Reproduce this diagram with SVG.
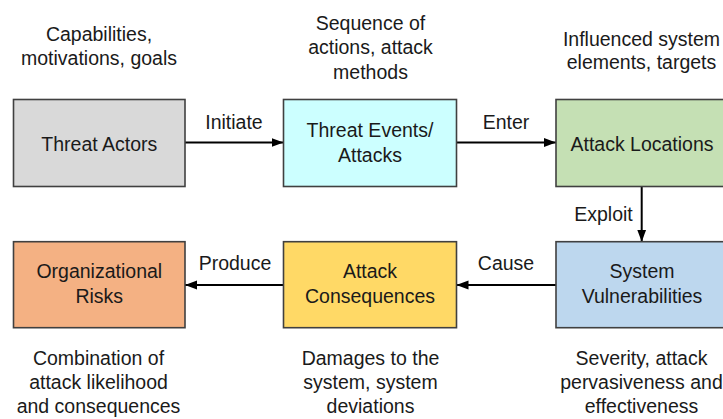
<svg xmlns="http://www.w3.org/2000/svg" width="723" height="419" viewBox="0 0 723 419">
<defs>
<style>
text{font-family:"Liberation Sans",Arial,sans-serif;font-size:19.5px;fill:#1a1a1a;text-anchor:middle}
.box{stroke:#404040;stroke-width:1.6}
.conn{stroke:#000;stroke-width:2;fill:none}
</style>
<marker id="ah" markerWidth="12" markerHeight="10" refX="12" refY="5" orient="auto" markerUnits="userSpaceOnUse">
<path d="M0,0.5 L12,5 L0,9.5 Z" fill="#000"/>
</marker>
</defs>
<rect width="723" height="419" fill="#fff"/>

<g id="connectors">
<line class="conn" x1="185" y1="142.5" x2="283.5" y2="142.5" marker-end="url(#ah)"/>
<line class="conn" x1="456.5" y1="142.5" x2="556" y2="142.5" marker-end="url(#ah)"/>
<line class="conn" x1="641.7" y1="187" x2="641.7" y2="241.7" marker-end="url(#ah)"/>
<line class="conn" x1="556" y1="285" x2="456.5" y2="285" marker-end="url(#ah)"/>
<line class="conn" x1="283.5" y1="285" x2="185" y2="285" marker-end="url(#ah)"/>
<text x="234" y="128.5">Initiate</text>
<text x="506" y="128.5">Enter</text>
<text x="603.5" y="220.5">Exploit</text>
<text x="506" y="270">Cause</text>
<text x="235" y="270">Produce</text>
</g>

<g id="threat-actors">
<rect class="box" x="13.5" y="99.5" width="171.5" height="87" fill="#d9d9d9"/>
<text x="99.3" y="150.5">Threat Actors</text>
<text x="99" y="40.5">Capabilities,</text>
<text x="99" y="65">motivations, goals</text>
</g>

<g id="threat-events">
<rect class="box" x="283.5" y="99.5" width="173" height="87" fill="#ccffff"/>
<text x="370" y="136.5">Threat Events/</text>
<text x="370" y="161.5">Attacks</text>
<text x="370.5" y="29.5">Sequence of</text>
<text x="370.5" y="54">actions, attack</text>
<text x="370.5" y="78.5">methods</text>
</g>

<g id="attack-locations">
<rect class="box" x="556" y="99.5" width="172" height="87" fill="#c5e0b4"/>
<text x="642" y="150.5">Attack Locations</text>
<text x="641.5" y="45.5">Influenced system</text>
<text x="641.5" y="68.5">elements, targets</text>
</g>

<g id="system-vulnerabilities">
<rect class="box" x="556" y="241.7" width="172" height="86" fill="#bdd7ee"/>
<text x="642" y="278.3">System</text>
<text x="642" y="303.3">Vulnerabilities</text>
<text x="641.5" y="365">Severity, attack</text>
<text x="641.5" y="389">pervasiveness and</text>
<text x="641.5" y="413">effectiveness</text>
</g>

<g id="attack-consequences">
<rect class="box" x="283.5" y="241.7" width="173" height="86" fill="#ffd966"/>
<text x="370" y="278.3">Attack</text>
<text x="370" y="303.3">Consequences</text>
<text x="370.5" y="365">Damages to the</text>
<text x="370.5" y="389">system, system</text>
<text x="370.5" y="413">deviations</text>
</g>

<g id="organizational-risks">
<rect class="box" x="13.5" y="241.7" width="171.5" height="86" fill="#f4b183"/>
<text x="99.3" y="278.3">Organizational</text>
<text x="99.3" y="303.3">Risks</text>
<text x="98.5" y="365">Combination of</text>
<text x="98.5" y="389">attack likelihood</text>
<text x="98.5" y="413">and consequences</text>
</g>
</svg>
